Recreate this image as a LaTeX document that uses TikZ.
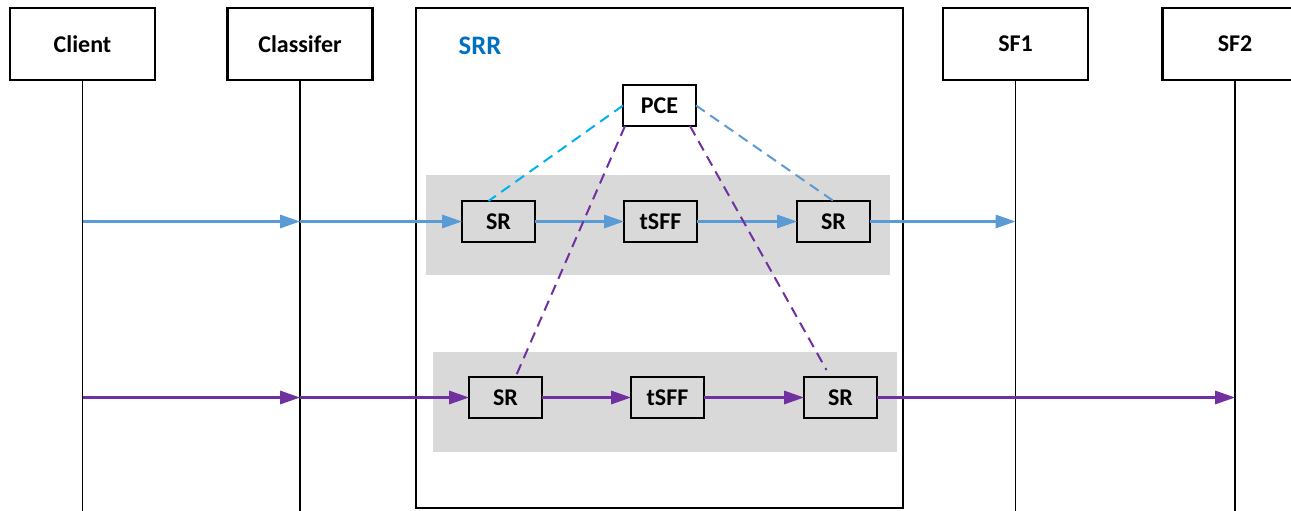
\documentclass[tikz,border=0pt]{standalone}
\usepackage{fontspec}
\setmainfont{Carlito}
\usetikzlibrary{arrows.meta, positioning, calc}

\definecolor{flowblue}{HTML}{5B9BD5}
\definecolor{pcecyan}{HTML}{00B0F0}
\definecolor{flowpurple}{HTML}{7030A0}
\definecolor{srrblue}{HTML}{0070C0}
\definecolor{bandgray}{HTML}{D9D9D9}

\begin{document}
\begin{tikzpicture}[
    x=0.75pt, y=-0.75pt,
    actor/.style={rectangle, draw, line width=2pt, fill=white, minimum width=108.75pt, minimum height=54pt, inner sep=0pt, outer sep=0pt, font=\fontsize{18}{21}\selectfont\bfseries},
    router/.style={rectangle, draw, line width=2pt, minimum width=365.25pt, minimum height=375pt, outer sep=0pt},
    band/.style={rectangle, fill=bandgray, minimum width=348pt, minimum height=75pt, outer sep=0pt},
    fn/.style={rectangle, draw, line width=1.4pt, minimum width=54.75pt, minimum height=30.75pt, inner sep=0pt, outer sep=0pt, font=\fontsize{18}{21}\selectfont\bfseries},
    pcebox/.style={fn, line width=2pt, fill=white},
    life/.style={line width=1.4pt},
    blueflow/.style={-{Triangle[length=15pt, width=10pt]}, line width=1.6pt, flowblue},
    purpleflow/.style={blueflow, flowpurple},
    ctrl/.style={dash pattern=on 8pt off 5pt, line width=1.5pt},
    srrtext/.style={font=\fontsize{20}{24}\selectfont\bfseries, text=srrblue}
]
\useasboundingbox (0,0) rectangle (1291,510);

% Entities with lifelines
\node[actor] (client) at (82.5,44) {Client};
\node[actor] (classifier) at (300,44) {Classifer};
\node[actor] (sf1) at (1015.5,44) {SF1};
\node[actor] (sf2) at (1235,44) {SF2};

\coordinate (floor) at (0,512);
\draw[life] (client.south) -- (client.south |- floor);
\draw[life] (classifier.south) -- (classifier.south |- floor);
\draw[life] (sf1.south) -- (sf1.south |- floor);
\draw[life] (sf2.south) -- (sf2.south |- floor);

% SRR with its two paths
\node[router] (srr) at (659.5,258) {};
\node[srrtext] (srrlabel) at (480,46) {SRR};
\node[band] (bandA) at (658,225) {};
\node[band] (bandB) at (665,401.5) {};

\node[pcebox] (pce) at (659.5,105.5) {PCE};

\node[fn] (srA1) at (498.5,221.5) {SR};
\node[fn] (tsffA) [right=66.75pt of srA1] {tSFF};
\node[fn] (srA2) [right=75pt of tsffA] {SR};

\node[fn] (srB1) at (505.5,397.5) {SR};
\node[fn] (tsffB) [right=66.75pt of srB1] {tSFF};
\node[fn] (srB2) [right=75pt of tsffB] {SR};

% Points on the lifelines
\coordinate (cliA) at (client.south |- srA1.west);
\coordinate (clsA) at (classifier.south |- srA1.west);
\coordinate (sf1A) at (sf1.south |- srA2.east);
\coordinate (cliB) at (client.south |- srB1.west);
\coordinate (clsB) at (classifier.south |- srB1.west);
\coordinate (sf2B) at (sf2.south |- srB2.east);

% Path to SF1
\draw[blueflow] (cliA) -- (clsA);
\draw[blueflow] (clsA) -- (srA1.west);
\draw[blueflow] (srA1) -- (tsffA);
\draw[blueflow] (tsffA) -- (srA2);
\draw[blueflow] (srA2) -- (sf1A);

% Path to SF2
\draw[purpleflow] (cliB) -- (clsB);
\draw[purpleflow] (clsB) -- (srB1.west);
\draw[purpleflow] (srB1) -- (tsffB);
\draw[purpleflow] (tsffB) -- (srB2);
\draw[purpleflow] (srB2) -- (sf2B);

% Control links from PCE
\draw[ctrl, pcecyan] (pce.west) -- ($(srA1.north)+(-10,0)$);
\draw[ctrl, flowblue] (pce.east) -- (srA2.north);
\draw[ctrl, flowpurple] ($(pce.south west)+(2,0)$) -- ($(srB1.north)+(10,0)$);
\draw[ctrl, flowpurple] ($(pce.south east)+(-6,0)$) -- ($(srB2.north)+(-14,-7)$);

\end{tikzpicture}
\end{document}
